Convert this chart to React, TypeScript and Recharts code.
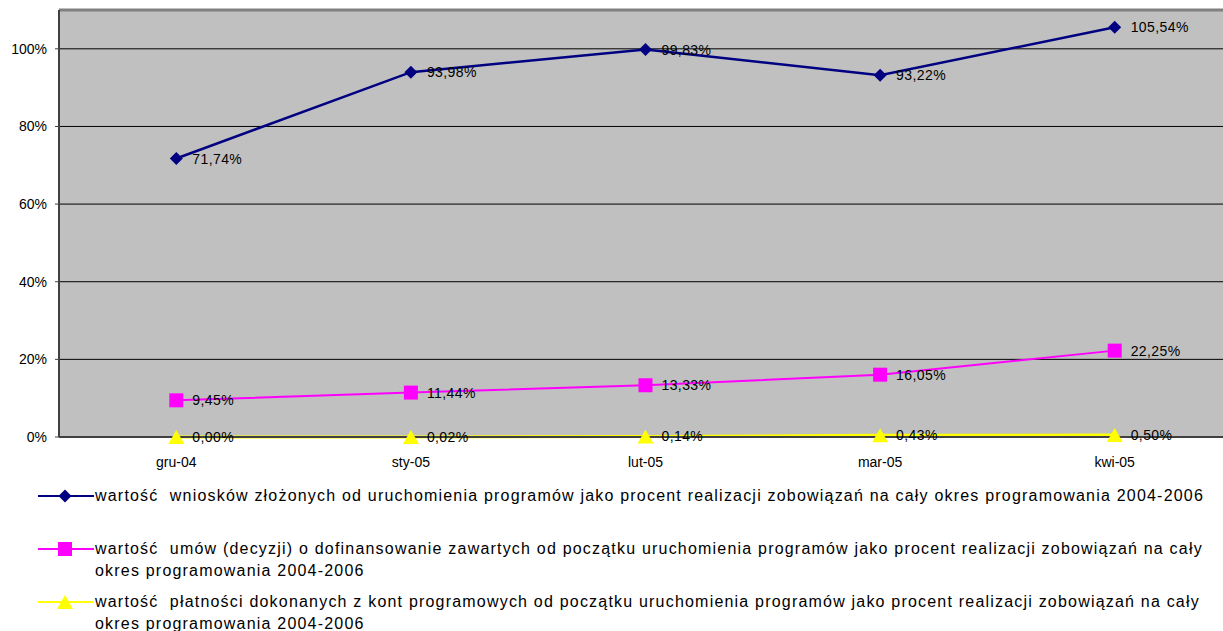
import React from "react";
import {
  LineChart,
  Line,
  XAxis,
  YAxis,
  CartesianGrid,
  ReferenceLine,
  LabelList,
} from "recharts";

const months = ["gru-04", "sty-05", "lut-05", "mar-05", "kwi-05"];
const wnioski = [71.74, 93.98, 99.83, 93.22, 105.54];
const umowy = [9.45, 11.44, 13.33, 16.05, 22.25];
const platnosci = [0.0, 0.02, 0.14, 0.43, 0.5];
const yTicks = [0, 20, 40, 60, 80, 100];
const bandEdges = [-0.5, 0.5, 1.5, 2.5, 3.5, 4.5];

const legendNames = [
  ["wartość  wniosków złożonych od uruchomienia programów jako procent realizacji zobowiązań na cały okres programowania 2004-2006"],
  [
    "wartość  umów (decyzji) o dofinansowanie zawartych od początku uruchomienia programów jako procent realizacji zobowiązań na cały",
    "okres programowania 2004-2006",
  ],
  [
    "wartość  płatności dokonanych z kont programowych od początku uruchomienia programów jako procent realizacji zobowiązań na cały",
    "okres programowania 2004-2006",
  ],
];

const NAVY = "#000080";
const PINK = "#FF00FF";
const YELLOW = "#FFFF00";
const FONT = "'Liberation Sans', Arial, sans-serif";

const data = months.map((m, i) => ({
  x: i,
  month: m,
  wnioski: wnioski[i],
  umowy: umowy[i],
  platnosci: platnosci[i],
}));

const fmt = (v: number) => v.toFixed(2).replace(".", ",") + "%";

const Diamond = ({ cx, cy }: { cx: number; cy: number }) => (
  <path d={`M${cx} ${cy - 6.5}L${cx + 6.5} ${cy}L${cx} ${cy + 6.5}L${cx - 6.5} ${cy}Z`} fill={NAVY} />
);
const Square = ({ cx, cy }: { cx: number; cy: number }) => (
  <rect x={cx - 7} y={cy - 7} width={14} height={14} fill={PINK} />
);
const Triangle = ({ cx, cy }: { cx: number; cy: number }) => (
  <path d={`M${cx} ${cy - 7}L${cx + 8} ${cy + 7}L${cx - 8} ${cy + 7}Z`} fill={YELLOW} />
);

const makeDot = (Shape: any) => (props: any) => (
  <Shape key={`d-${props.index}`} cx={props.cx} cy={props.cy} />
);

const PctLabel = (props: any) => {
  const { x, y, value } = props;
  return (
    <text
      x={x + 16}
      y={y}
      dy="0.36em"
      fontSize={14}
      fontFamily={FONT}
      letterSpacing={0.4}
      fill="#000"
    >
      {fmt(value)}
    </text>
  );
};

const LegendIcon = ({ kind, color }: { kind: string; color: string }) => (
  <svg width={56} height={16} style={{ display: "block" }}>
    <line x1={0} y1={8} x2={56} y2={8} stroke={color} strokeWidth={2} />
    {kind === "d" && <Diamond cx={27} cy={8} />}
    {kind === "s" && <Square cx={27} cy={8} />}
    {kind === "t" && <Triangle cx={27} cy={8} />}
  </svg>
);

const legendRows = [
  { kind: "d", color: NAVY, top: 488 },
  { kind: "s", color: PINK, top: 541 },
  { kind: "t", color: YELLOW, top: 594 },
];

export default function App() {
  return (
    <div
      style={{
        position: "absolute",
        left: 0,
        top: 0,
        width: 1223,
        height: 631,
        overflow: "hidden",
        background: "#fff",
        fontFamily: FONT,
      }}
    >
      <LineChart
        width={1232}
        height={475}
        data={data}
        margin={{ top: 10, right: 0, bottom: 0, left: 0 }}
      >
        <CartesianGrid
          vertical={false}
          horizontal
          stroke="#000"
          strokeWidth={1}
          fill="#C0C0C0"
          fillOpacity={1}
        />
        <XAxis
          xAxisId="cat"
          dataKey="x"
          type="number"
          domain={[-0.5, 4.5]}
          ticks={[0, 1, 2, 3, 4]}
          tickFormatter={(v) => months[v]}
          height={38}
          axisLine={{ stroke: "#404040", strokeWidth: 2 }}
          tickLine={false}
          tickMargin={14}
          tick={{ fill: "#000", fontSize: 14, fontFamily: FONT }}
        />
        <XAxis
          xAxisId="edge"
          dataKey="x"
          type="number"
          domain={[-0.5, 4.5]}
          ticks={bandEdges}
          tickFormatter={() => ""}
          height={0}
          axisLine={false}
          tickLine={{ stroke: "#404040" }}
          tickSize={5}
        />
        <YAxis
          domain={[0, 110]}
          ticks={yTicks}
          tickFormatter={(v) => `${v}%`}
          width={59}
          axisLine={{ stroke: "#404040", strokeWidth: 2 }}
          tickLine={{ stroke: "#404040" }}
          tickSize={4}
          tickMargin={8}
          tick={{ fill: "#000", fontSize: 14, fontFamily: FONT }}
        />
        <ReferenceLine y={110} xAxisId="cat" stroke="#808080" strokeWidth={3} />
        <Line
          xAxisId="cat"
          dataKey="platnosci"
          stroke={YELLOW}
          strokeWidth={3}
          dot={makeDot(Triangle)}
          isAnimationActive={false}
        >
          <LabelList dataKey="platnosci" content={PctLabel} />
        </Line>
        <Line
          xAxisId="cat"
          dataKey="umowy"
          stroke={PINK}
          strokeWidth={2}
          dot={makeDot(Square)}
          isAnimationActive={false}
        >
          <LabelList dataKey="umowy" content={PctLabel} />
        </Line>
        <Line
          xAxisId="cat"
          dataKey="wnioski"
          stroke={NAVY}
          strokeWidth={2.5}
          dot={makeDot(Diamond)}
          isAnimationActive={false}
        >
          <LabelList dataKey="wnioski" content={PctLabel} />
        </Line>
      </LineChart>

      {legendRows.map((r, i) => (
        <div
          key={i}
          style={{ position: "absolute", left: 38, top: r.top, display: "flex", alignItems: "flex-start" }}
        >
          <LegendIcon kind={r.kind} color={r.color} />
          <div
            style={{
              marginLeft: 1,
              fontSize: 16,
              lineHeight: "22px",
              letterSpacing: 1.2,
              marginTop: -3,
              whiteSpace: "pre",
              color: "#000",
            }}
          >
            {legendNames[i].map((t, j) => (
              <div key={j}>{t}</div>
            ))}
          </div>
        </div>
      ))}
    </div>
  );
}
